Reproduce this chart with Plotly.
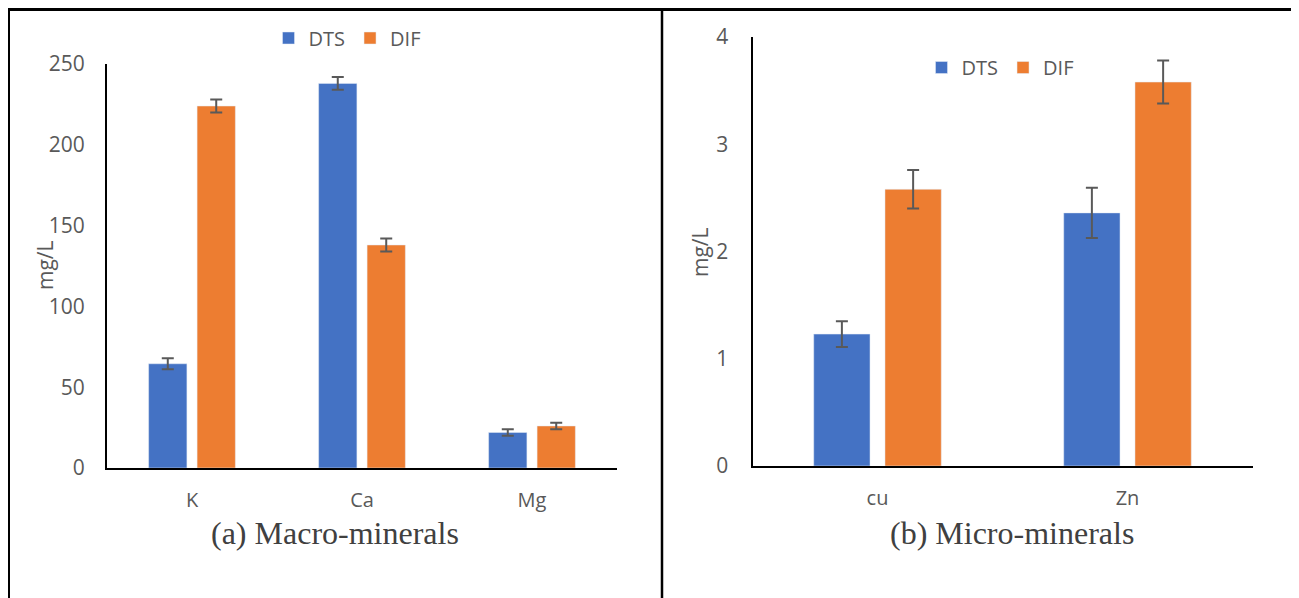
import plotly.graph_objects as go

# Data
macro_cats = ["K", "Ca", "Mg"]
macro_dts = [64.5, 238, 22]
macro_dts_err = [3.4, 4, 2]
macro_dif = [224, 138, 26]
macro_dif_err = [4, 4, 2]

micro_cats = ["cu", "Zn"]
micro_dts = [1.23, 2.36]
micro_dts_err = [0.12, 0.235]
micro_dif = [2.58, 3.58]
micro_dif_err = [0.18, 0.2]

BLUE = "#4472C4"
ORANGE = "#ED7D31"
GRAY = "#595959"
OFF = 8  # page body margin
W, H = 1299 - OFF, 598 - OFF


def px(x):
    return (x - OFF) / W


def py(y):
    return 1 - (y - OFF) / H


fig = go.Figure()


def err(vals):
    return dict(type="data", array=vals, visible=True, color=GRAY, thickness=2, width=6)


fig.add_trace(go.Bar(x=macro_cats, y=macro_dts, name="DTS", marker_color=BLUE,
                     error_y=err(macro_dts_err), xaxis="x", yaxis="y", legend="legend"))
fig.add_trace(go.Bar(x=macro_cats, y=macro_dif, name="DIF", marker_color=ORANGE,
                     error_y=err(macro_dif_err), xaxis="x", yaxis="y", legend="legend"))
fig.add_trace(go.Bar(x=micro_cats, y=micro_dts, name="DTS", marker_color=BLUE,
                     error_y=err(micro_dts_err), xaxis="x2", yaxis="y2", legend="legend2"))
fig.add_trace(go.Bar(x=micro_cats, y=micro_dif, name="DIF", marker_color=ORANGE,
                     error_y=err(micro_dif_err), xaxis="x2", yaxis="y2", legend="legend2"))

FONT = "Open Sans, sans-serif"
xtickfont = dict(family=FONT, size=20, color=GRAY)
ytickfont = dict(family=FONT, size=21, color=GRAY)

xcommon = dict(showline=True, linecolor="black", linewidth=2, showgrid=False, ticks="",
               tickfont=xtickfont, automargin=False, ticklabelstandoff=13, fixedrange=True)
ycommon = dict(showline=True, linecolor="black", linewidth=2, showgrid=False, ticks="",
               tickfont=ytickfont, automargin=False, zeroline=False, fixedrange=True)

legfont = dict(family=FONT, size=20, color=GRAY)

fig.update_layout(
    width=W, height=H,
    margin=dict(l=0, r=0, t=0, b=0),
    paper_bgcolor="white", plot_bgcolor="white",
    barmode="group", bargap=0.43, bargroupgap=0.21,
    xaxis=dict(domain=[px(107), px(617)], anchor="y", **xcommon),
    yaxis=dict(domain=[py(468), py(64)], range=[0, 250], dtick=50, anchor="x",
               ticklabelstandoff=16, **ycommon),
    xaxis2=dict(domain=[px(752.5), px(1252.5)], anchor="y2", **xcommon),
    yaxis2=dict(domain=[py(466), py(37)], range=[0, 4], dtick=1, anchor="x2",
                ticklabelstandoff=18, **ycommon),
    legend=dict(orientation="h", x=px(347), y=py(38), xanchor="center", yanchor="middle",
                font=legfont, bgcolor="rgba(0,0,0,0)", itemwidth=30),
    legend2=dict(orientation="h", x=px(1000), y=py(67.5), xanchor="center", yanchor="middle",
                 font=legfont, bgcolor="rgba(0,0,0,0)", itemwidth=30),
    showlegend=True,
)

# Frame lines
line = dict(color="black", width=3)
fig.add_shape(type="line", xref="paper", yref="paper", x0=0, x1=1, y0=py(9.5), y1=py(9.5), line=line)
fig.add_shape(type="line", xref="paper", yref="paper", x0=px(8.5), x1=px(8.5), y0=py(8), y1=0, line=line)
fig.add_shape(type="line", xref="paper", yref="paper", x0=px(662), x1=px(662), y0=py(8), y1=0,
              line=dict(color="black", width=2.5))

# Axis titles
titlefont = dict(family=FONT, size=21, color=GRAY)
fig.add_annotation(text="mg/L", xref="paper", yref="paper", x=px(45), y=py(265), showarrow=False,
                   xanchor="center", yanchor="middle", textangle=-90, font=titlefont)
fig.add_annotation(text="mg/L", xref="paper", yref="paper", x=px(700), y=py(252), showarrow=False,
                   xanchor="center", yanchor="middle", textangle=-90, font=titlefont)

# Captions
capfont = dict(family="Liberation Serif, Times New Roman, serif", size=32, color="#404040")
fig.add_annotation(text="(a) Macro-minerals", xref="paper", yref="paper", x=px(335), y=py(533),
                   xanchor="center", yanchor="middle", showarrow=False, font=capfont)
fig.add_annotation(text="(b) Micro-minerals", xref="paper", yref="paper", x=px(1012), y=py(533),
                   xanchor="center", yanchor="middle", showarrow=False, font=capfont)

fig.write_html("out.html")
